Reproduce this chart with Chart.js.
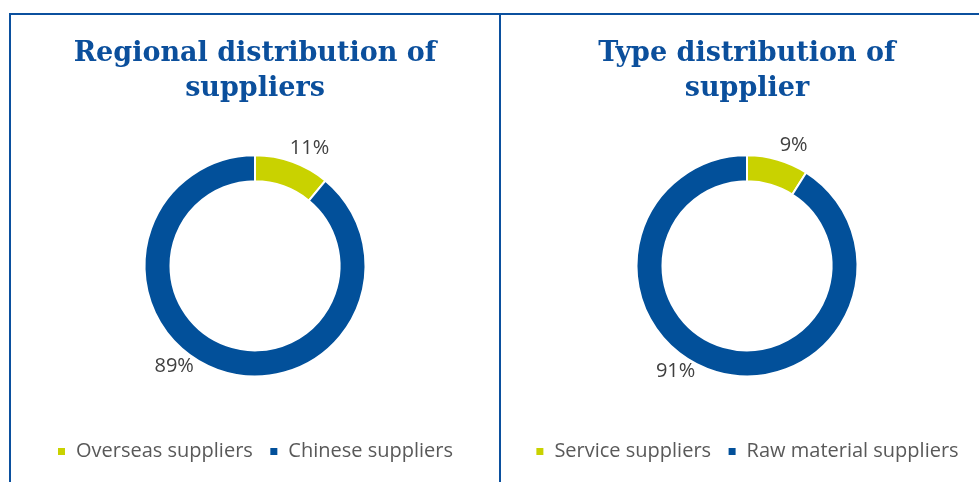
<!DOCTYPE html>
<html>
<head>
<meta charset="utf-8">
<script src="https://cdn.jsdelivr.net/npm/chart.js@4"></script>
<style>
  html, body { margin: 0; padding: 0; background: #fff; overflow: hidden; }
  body { width: 979px; height: 482px; position: relative; }
  #frame { position: absolute; left: 9px; top: 13px; width: 1000px; height: 480px;
           border-top: 2px solid #0b509e; border-left: 2px solid #0b509e; }
  #divider { position: absolute; left: 499px; top: 13px; width: 2px; height: 480px; background: #0b509e; }
  .box { position: absolute; top: 15px; height: 467px; }
  #box1 { left: 11px; width: 488px; }
  #box2 { left: 501px; width: 492px; }
</style>
</head>
<body>
<div id="frame"></div>
<div id="divider"></div>
<div class="box" id="box1"><canvas id="regionChart"></canvas></div>
<div class="box" id="box2"><canvas id="typeChart"></canvas></div>
<script>
var regionLabels = ['Overseas suppliers', 'Chinese suppliers'];
var regionValues = [11, 89];
var typeLabels = ['Service suppliers', 'Raw material suppliers'];
var typeValues = [9, 91];
var sliceColors = ['#c9d200', '#02509a'];

var titleColor = '#0b4f9c';
var textColor = '#404040';

// draws the percent labels just outside the ring
var outsideLabels = {
  id: 'outsideLabels',
  afterDatasetsDraw: function(chart, args, opts) {
    var ctx = chart.ctx;
    var meta = chart.getDatasetMeta(0);
    var values = chart.data.datasets[0].data;
    ctx.save();
    ctx.font = '20px "Open Sans"';
    ctx.fillStyle = textColor;
    ctx.textAlign = 'center';
    ctx.textBaseline = 'middle';
    meta.data.forEach(function(arc, i) {
      var p = arc.getProps(['x', 'y', 'startAngle', 'endAngle'], true);
      var mid = (p.startAngle + p.endAngle) / 2 + opts.shift[i] * Math.PI / 180;
      var d = opts.distance[i];
      ctx.fillText(values[i] + '%', p.x + Math.cos(mid) * d, p.y + Math.sin(mid) * d);
    });
    ctx.restore();
  }
};

function makeChart(id, title, labels, values, shift, distance) {
  var ctx = document.getElementById(id).getContext('2d');
  return new Chart(ctx, {
    type: 'doughnut',
    data: {
      labels: labels,
      datasets: [{
        data: values,
        backgroundColor: sliceColors,
        borderColor: '#ffffff',
        borderWidth: 2,
        radius: 110.5,
        cutout: '76.5%'
      }]
    },
    options: {
      responsive: true,
      maintainAspectRatio: false,
      animation: false,
      layout: { padding: { top: 0, bottom: 10.5, left: 0, right: 0 } },
      plugins: {
        title: {
          display: true,
          text: title,
          color: titleColor,
          font: { family: '"DejaVu Serif"', size: 27, weight: 'bold', lineHeight: 1.3 },
          padding: { top: 21.5, bottom: 0 }
        },
        legend: {
          position: 'bottom',
          labels: {
            color: '#595959',
            font: { family: '"Open Sans"', size: 20 },
            boxWidth: 9,
            boxHeight: 9,
            padding: 16.5
          }
        },
        tooltip: { enabled: false },
        outsideLabels: { shift: shift, distance: distance }
      }
    },
    plugins: [outsideLabels]
  });
}

makeChart('regionChart', ['Regional distribution of', 'suppliers'], regionLabels, regionValues, [5, 19], [130, 129]);
makeChart('typeChart', ['Type distribution of', 'supplier'], typeLabels, typeValues, [5, 18], [129, 127]);
</script>
</body>
</html>
